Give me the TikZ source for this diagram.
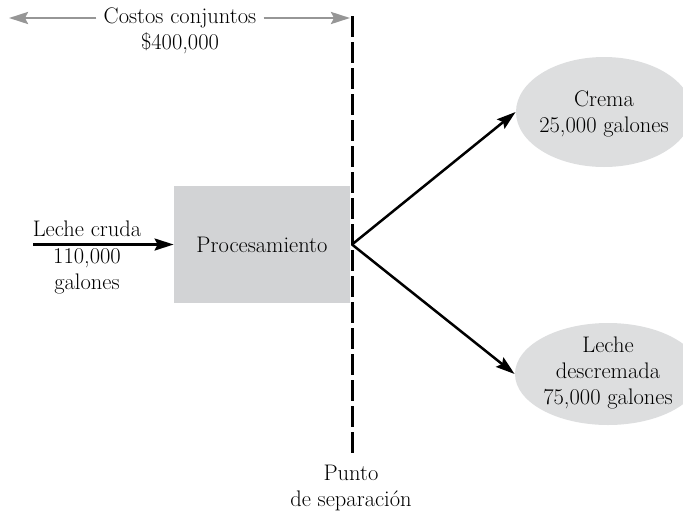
\documentclass[tikz,border=0pt]{standalone}
\usepackage{tikz}
\usetikzlibrary{arrows.meta,shapes.geometric}

\definecolor{boxgray}{RGB}{210,211,213}
\definecolor{ellgray}{RGB}{221,222,223}
\definecolor{costgray}{RGB}{150,150,150}

\tikzset{
    txt/.style={font=\fontsize{22.5}{26}\selectfont, align=center, inner sep=0pt},
    flow/.style={-{Stealth[length=19pt,width=12pt,inset=3pt]}, line width=2.5pt},
    costflow/.style={-{Stealth[length=19pt,width=12pt,inset=3pt]}, line width=2.6pt, draw=costgray, color=costgray},
    procbox/.style={fill=boxgray, minimum width=176pt, minimum height=117pt, inner sep=0pt},
    prodell/.style={ellipse, fill=ellgray, inner sep=0pt}
}

\begin{document}
\begin{tikzpicture}[x=1pt, y=-1pt, >=Stealth, thick]
    \useasboundingbox (0,0) rectangle (683,512);

    % Processing box
    \node[procbox, txt] (proc) at (262,244.5) {Procesamiento};

    % Products
    \node[prodell, minimum width=176pt, minimum height=110pt] (crema) at (604,112) {};
    \node[txt] (cremaT) at (604,114) {Crema\\25,000 galones};
    \node[prodell, minimum width=186pt, minimum height=102pt] (descr) at (608,374) {};
    \node[txt] (descrT) at (608,373) {Leche\\descremada\\75,000 galones};

    % Split-off line
    \coordinate (dtop) at (352,16);
    \coordinate (dbot) at (352,453);
    \coordinate (split) at (352,244.5);
    \draw[line width=3pt, dash pattern=on 21pt off 5pt] (dtop) -- (dbot);
    \node[txt] (punto) at (351,488) {Punto\\de separaci\'on};

    % Joint costs
    \node[txt, inner xsep=7pt] (costos) at (180,18) {Costos conjuntos};
    \node[txt] (monto) at (180,43) {\$400,000};
    \coordinate (costL) at (9,18);
    \coordinate (costR) at (350,18);
    \draw[costflow] (costos.west) -- (costL);
    \draw[costflow] (costos.east) -- (costR);

    % Raw milk input
    \coordinate (in) at (33,244.5);
    \draw[flow] (in) -- (proc.west);
    \node[txt] (cruda) at (87,229) {Leche cruda};
    \node[txt] (litros) at (87,271) {110,000\\galones};

    % Outputs
    \draw[flow] (split) -- (crema.west);
    \draw[flow] (split) -- (descr.west);
\end{tikzpicture}
\end{document}
